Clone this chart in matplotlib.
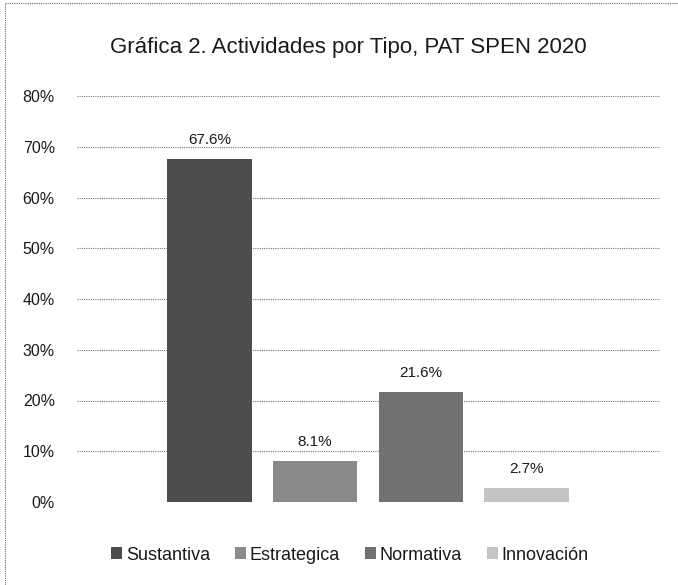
import matplotlib
matplotlib.use("Agg")
import matplotlib.pyplot as plt
from matplotlib.lines import Line2D
from matplotlib.ticker import FuncFormatter

plt.rcParams['font.family'] = ['Liberation Sans', 'DejaVu Sans']

title = "Gráfica 2. Actividades por Tipo, PAT SPEN 2020"
categories = ["Sustantiva", "Estrategica", "Normativa", "Innovación"]
values = [67.6, 8.1, 21.6, 2.7]
labels = ["67.6%", "8.1%", "21.6%", "2.7%"]
colors = ["#4d4d4d", "#8a8a8a", "#727272", "#c4c4c4"]
yticks = [0, 10, 20, 30, 40, 50, 60, 70, 80]

fig = plt.figure(figsize=(6.78, 5.85), dpi=100)
ax = fig.add_axes([77/678, 1 - 502/585, (660 - 77)/678, (502 - 96)/585])

for i, (cat, v, lab, c) in enumerate(zip(categories, values, labels, colors)):
    ax.bar(i, v, width=0.8, color=c, label=cat, zorder=3)
    ax.text(i, v + 2.4, lab, ha='center', va='bottom', fontsize=11, color='#1a1a1a', zorder=4)

ax.set_xlim(-1.25, 4.26)
ax.set_ylim(0, 80)
ax.set_yticks(yticks)
ax.yaxis.set_major_formatter(FuncFormatter(lambda v, p: f"{int(v)}%"))
ax.tick_params(axis='y', length=0, pad=16, labelsize=11.5, labelcolor='#1a1a1a')
ax.set_xticks([])
ax.grid(axis='y', linestyle=(0, (1, 1)), color='#777777', linewidth=0.8, zorder=0)
for s in ax.spines.values():
    s.set_visible(False)

fig.text(348/678, 1 - 47/585, title, ha='center', va='center', fontsize=16, color='#1a1a1a')

leg = fig.legend(loc='center', bbox_to_anchor=(350/678, 1 - 555/585), ncol=4, frameon=False,
                 fontsize=13, handlelength=0.6, handleheight=0.6, handletextpad=0.2,
                 columnspacing=1.4, labelcolor='#1a1a1a')

# dotted border at left and top of the figure
fig.add_artist(Line2D([5/678, 5/678], [0, 1 - 3/585], transform=fig.transFigure,
                      color='#666666', linestyle=(0, (1, 1)), linewidth=0.8))
fig.add_artist(Line2D([5/678, 1], [1 - 3/585, 1 - 3/585], transform=fig.transFigure,
                      color='#666666', linestyle=(0, (1, 1)), linewidth=0.8))

fig.savefig("out.png", dpi=100)
